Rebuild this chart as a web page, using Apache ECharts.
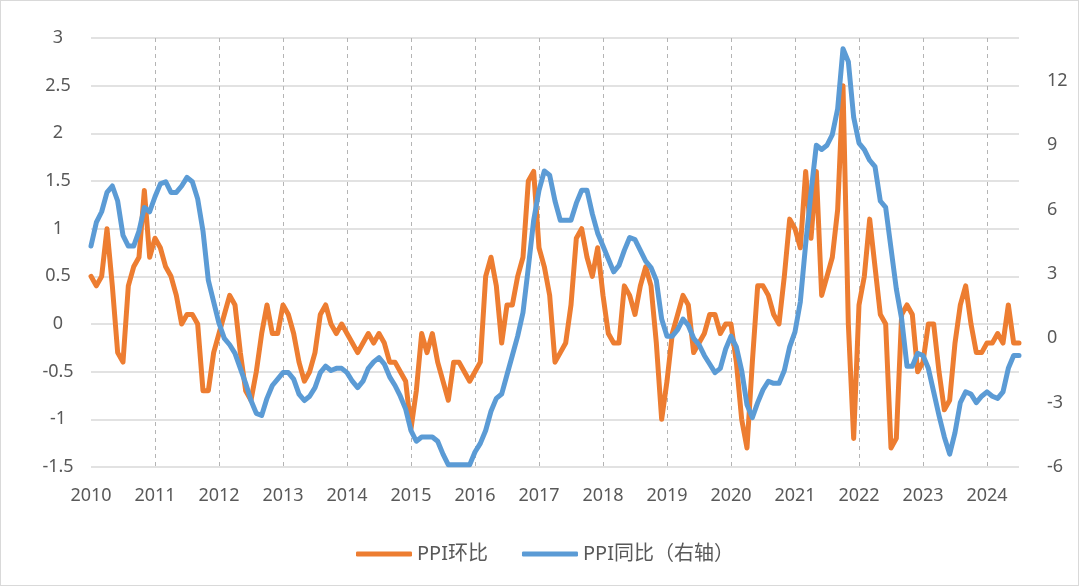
<!DOCTYPE html>
<html>
<head>
<meta charset="utf-8">
<script src="https://cdn.jsdelivr.net/npm/echarts@6/dist/echarts.min.js"></script>
<style>
  html, body { margin: 0; padding: 0; background: #fff; }
  #main {
    width: 1079px;
    height: 586px;
    box-sizing: border-box;
    border: 1px solid #d9d9d9;
  }
</style>
</head>
<body>
<div id="main"></div>
<script>
// 年份（月度数据，2010-01 至 2024-07）
var years = [2010, 2011, 2012, 2013, 2014, 2015, 2016, 2017, 2018, 2019, 2020, 2021, 2022, 2023, 2024];

// PPI环比（左轴，%）
var mom2010 = [0.5, 0.4, 0.5, 1.0, 0.4, -0.3, -0.4, 0.4, 0.6, 0.7, 1.4, 0.7];
var mom2011 = [0.9, 0.8, 0.6, 0.5, 0.3, 0.0, 0.1, 0.1, 0.0, -0.7, -0.7, -0.3];
var mom2012 = [-0.1, 0.1, 0.3, 0.2, -0.3, -0.7, -0.8, -0.5, -0.1, 0.2, -0.1, -0.1];
var mom2013 = [0.2, 0.1, -0.1, -0.4, -0.6, -0.5, -0.3, 0.1, 0.2, 0.0, -0.1, 0.0];
var mom2014 = [-0.1, -0.2, -0.3, -0.2, -0.1, -0.2, -0.1, -0.2, -0.4, -0.4, -0.5, -0.6];
var mom2015 = [-1.1, -0.7, -0.1, -0.3, -0.1, -0.4, -0.6, -0.8, -0.4, -0.4, -0.5, -0.6];
var mom2016 = [-0.5, -0.4, 0.5, 0.7, 0.4, -0.2, 0.2, 0.2, 0.5, 0.7, 1.5, 1.6];
var mom2017 = [0.8, 0.6, 0.3, -0.4, -0.3, -0.2, 0.2, 0.9, 1.0, 0.7, 0.5, 0.8];
var mom2018 = [0.3, -0.1, -0.2, -0.2, 0.4, 0.3, 0.1, 0.4, 0.6, 0.4, -0.2, -1.0];
var mom2019 = [-0.6, -0.1, 0.1, 0.3, 0.2, -0.3, -0.2, -0.1, 0.1, 0.1, -0.1, 0.0];
var mom2020 = [0.0, -0.4, -1.0, -1.3, -0.4, 0.4, 0.4, 0.3, 0.1, 0.0, 0.5, 1.1];
var mom2021 = [1.0, 0.8, 1.6, 0.9, 1.6, 0.3, 0.5, 0.7, 1.2, 2.5, 0.0, -1.2];
var mom2022 = [0.2, 0.5, 1.1, 0.6, 0.1, 0.0, -1.3, -1.2, 0.1, 0.2, 0.1, -0.5];
var mom2023 = [-0.4, 0.0, 0.0, -0.5, -0.9, -0.8, -0.2, 0.2, 0.4, 0.0, -0.3, -0.3];
var mom2024 = [-0.2, -0.2, -0.1, -0.2, 0.2, -0.2, -0.2];

// PPI同比（右轴，%）
var yoy2010 = [4.3, 5.4, 5.9, 6.8, 7.1, 6.4, 4.8, 4.3, 4.3, 5.0, 6.1, 5.9];
var yoy2011 = [6.6, 7.2, 7.3, 6.8, 6.8, 7.1, 7.5, 7.3, 6.5, 5.0, 2.7, 1.7];
var yoy2012 = [0.7, 0.0, -0.3, -0.7, -1.4, -2.1, -2.9, -3.5, -3.6, -2.8, -2.2, -1.9];
var yoy2013 = [-1.6, -1.6, -1.9, -2.6, -2.9, -2.7, -2.3, -1.6, -1.3, -1.5, -1.4, -1.4];
var yoy2014 = [-1.6, -2.0, -2.3, -2.0, -1.4, -1.1, -0.9, -1.2, -1.8, -2.2, -2.7, -3.3];
var yoy2015 = [-4.3, -4.8, -4.6, -4.6, -4.6, -4.8, -5.4, -5.9, -5.9, -5.9, -5.9, -5.9];
var yoy2016 = [-5.3, -4.9, -4.3, -3.4, -2.8, -2.6, -1.7, -0.8, 0.1, 1.2, 3.3, 5.5];
var yoy2017 = [6.9, 7.8, 7.6, 6.4, 5.5, 5.5, 5.5, 6.3, 6.9, 6.9, 5.8, 4.9];
var yoy2018 = [4.3, 3.7, 3.1, 3.4, 4.1, 4.7, 4.6, 4.1, 3.6, 3.3, 2.7, 0.9];
var yoy2019 = [0.1, 0.1, 0.4, 0.9, 0.6, 0.0, -0.3, -0.8, -1.2, -1.6, -1.4, -0.5];
var yoy2020 = [0.1, -0.4, -1.5, -3.1, -3.7, -3.0, -2.4, -2.0, -2.1, -2.1, -1.5, -0.4];
var yoy2021 = [0.3, 1.7, 4.4, 6.8, 9.0, 8.8, 9.0, 9.5, 10.7, 13.5, 12.9, 10.3];
var yoy2022 = [9.1, 8.8, 8.3, 8.0, 6.4, 6.1, 4.2, 2.3, 0.9, -1.3, -1.3, -0.7];
var yoy2023 = [-0.8, -1.4, -2.5, -3.6, -4.6, -5.4, -4.4, -3.0, -2.5, -2.6, -3.0, -2.7];
var yoy2024 = [-2.5, -2.7, -2.8, -2.5, -1.4, -0.8, -0.8];

// 左轴刻度 / 右轴刻度
var leftTicks = { min: -1.5, max: 3, step: 0.5 };
var rightTicks = { min: -6, max: 14, step: 3, lastLabel: 12 };

var momData = [].concat(mom2010, mom2011, mom2012, mom2013, mom2014, mom2015, mom2016,
  mom2017, mom2018, mom2019, mom2020, mom2021, mom2022, mom2023, mom2024);
var yoyData = [].concat(yoy2010, yoy2011, yoy2012, yoy2013, yoy2014, yoy2015, yoy2016,
  yoy2017, yoy2018, yoy2019, yoy2020, yoy2021, yoy2022, yoy2023, yoy2024);

// 月份类目
var months = [];
for (var i = 0; i < momData.length; i++) {
  var y = years[Math.floor(i / 12)];
  var m = (i % 12) + 1;
  months.push(y + "-" + (m < 10 ? "0" + m : m));
}

var labelColor = "#595959";
var fontFamily = "'Noto Sans', 'Noto Sans CJK SC', sans-serif";

var myChart = echarts.init(document.getElementById("main"));
var option = {
  animation: false,
  backgroundColor: "#fff",
  grid: {
    left: 90,
    right: 59,
    top: 37,
    bottom: 118
  },
  legend: {
    left: 350,
    top: 538,
    itemWidth: 56,
    itemHeight: 5,
    itemGap: 34,
    icon: "roundRect",
    textStyle: {
      color: labelColor,
      fontSize: 20,
      fontFamily: fontFamily
    },
    data: ["PPI环比", "PPI同比（右轴）"]
  },
  xAxis: {
    type: "category",
    data: months,
    boundaryGap: false,
    axisLine: { show: false },
    axisTick: { show: false },
    axisLabel: {
      interval: function (idx) {
        return idx % 12 === 0;
      },
      formatter: function (v) {
        return v.slice(0, 4);
      },
      color: labelColor,
      fontSize: 18,
      fontFamily: fontFamily,
      margin: 20
    },
    splitLine: {
      show: true,
      interval: function (idx) {
        return idx % 12 === 0 && idx > 0;
      },
      lineStyle: { color: "#b4b4b4", type: [4, 4], width: 1 }
    }
  },
  yAxis: [
    {
      type: "value",
      min: leftTicks.min,
      max: leftTicks.max,
      interval: leftTicks.step,
      axisLine: { show: false },
      axisTick: { show: false },
      axisLabel: {
        color: labelColor,
        fontSize: 18,
        fontFamily: fontFamily,
        align: "center",
        margin: 33
      },
      splitLine: {
        lineStyle: { color: "#d9d9d9", width: 1.5 }
      }
    },
    {
      type: "value",
      min: rightTicks.min,
      max: rightTicks.max,
      interval: rightTicks.step,
      axisLine: { show: false },
      axisTick: { show: false },
      splitLine: { show: false },
      axisLabel: {
        color: labelColor,
        fontSize: 18,
        fontFamily: fontFamily,
        align: "left",
        margin: 28,
        formatter: function (v) {
          return v > rightTicks.lastLabel ? "" : String(v);
        }
      }
    }
  ],
  series: [
    {
      name: "PPI环比",
      type: "line",
      yAxisIndex: 0,
      data: momData,
      showSymbol: false,
      symbol: "none",
      itemStyle: { color: "#ED7D31" },
      lineStyle: { color: "#ED7D31", width: 5, cap: "round", join: "round" }
    },
    {
      name: "PPI同比（右轴）",
      type: "line",
      yAxisIndex: 1,
      data: yoyData,
      showSymbol: false,
      symbol: "none",
      itemStyle: { color: "#5B9BD5" },
      lineStyle: { color: "#5B9BD5", width: 5, cap: "round", join: "round" }
    }
  ]
};
option && myChart.setOption(option);
</script>
</body>
</html>
